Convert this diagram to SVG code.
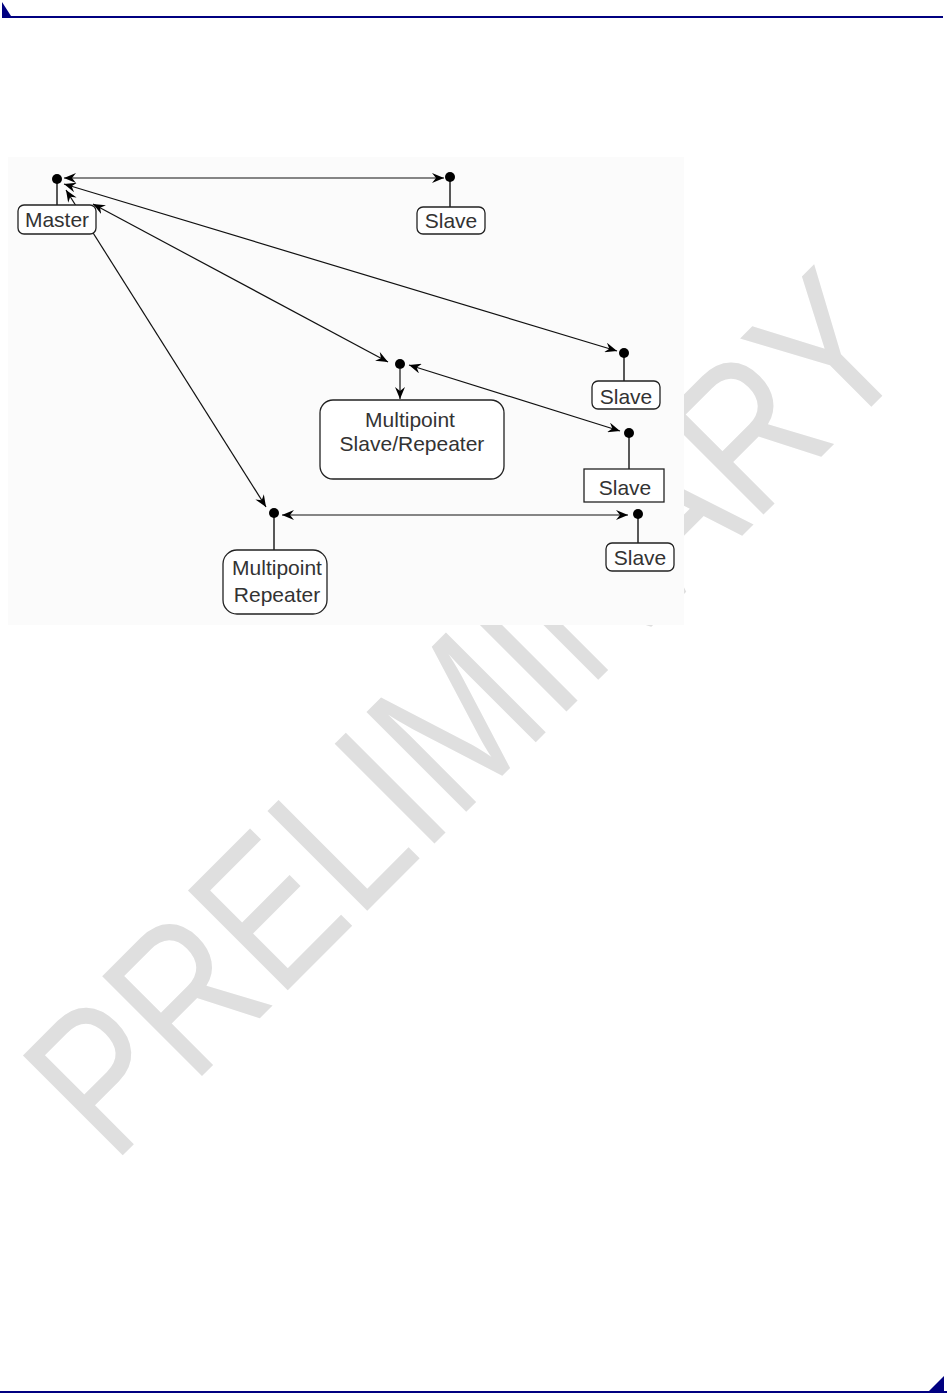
<svg xmlns="http://www.w3.org/2000/svg" width="947" height="1394" viewBox="0 0 947 1394">
<style>
.box{fill:#ffffff;stroke:#222;stroke-width:1.3}
.lbl{font-family:"Liberation Sans",Arial,sans-serif;font-size:21px;fill:#333;text-anchor:middle}
.stem{stroke:#222;stroke-width:1.5}
.dot{fill:#000}
.con{stroke:#111;stroke-width:1.2;fill:none}
</style>
<defs>
<marker id="ah" viewBox="0 0 12 10" refX="12" refY="5" markerWidth="12" markerHeight="10" markerUnits="userSpaceOnUse" orient="auto-start-reverse">
<path d="M0,0 L12,5 L0,10 L4,5 z" fill="#000"/>
</marker>
</defs>
<rect width="947" height="1394" fill="#ffffff"/>
<g id="header">
<path d="M2,2 L11,16 L2,16 z" fill="#000080"/>
<rect x="2" y="16" width="941" height="2" fill="#000080"/>
</g>
<g id="footer">
<path d="M944,1376 L944,1391 L929,1391 z" fill="#000080"/>
<rect x="0" y="1391" width="947" height="2" fill="#000080"/>
</g>
<text id="watermark" transform="translate(113,1165) rotate(-45) scale(0.82,1)" font-family="Liberation Sans,Arial,sans-serif" font-size="205" fill="#dfdfdf">PRELIMINARY</text>
<rect id="diagram-bg" x="8" y="157" width="676" height="468" fill="#fbfbfb"/>
<g id="connectors">
<line class="con" x1="64" y1="178" x2="444" y2="178" marker-start="url(#ah)" marker-end="url(#ah)"/>
<line class="con" x1="64" y1="184" x2="617" y2="351" marker-start="url(#ah)" marker-end="url(#ah)"/>
<line class="con" x1="93" y1="204" x2="388" y2="362" marker-start="url(#ah)" marker-end="url(#ah)"/>
<line class="con" x1="66" y1="190" x2="266" y2="507" marker-start="url(#ah)" marker-end="url(#ah)"/>
<line class="con" x1="409" y1="365" x2="620" y2="431" marker-start="url(#ah)" marker-end="url(#ah)"/>
<line class="con" x1="282" y1="515" x2="628" y2="515" marker-start="url(#ah)" marker-end="url(#ah)"/>
<line class="con" x1="400" y1="369" x2="400" y2="399" marker-end="url(#ah)"/>
</g>
<g id="master">
<line class="stem" x1="57" y1="179" x2="57" y2="205"/>
<circle class="dot" cx="57" cy="179" r="5"/>
<rect class="box" x="18" y="205" width="78" height="29" rx="6"/>
<text class="lbl" x="57" y="227">Master</text>
</g>
<g id="slave1">
<line class="stem" x1="450" y1="177" x2="450" y2="207"/>
<circle class="dot" cx="450" cy="177" r="5"/>
<rect class="box" x="417" y="207" width="68" height="27" rx="6"/>
<text class="lbl" x="451" y="228">Slave</text>
</g>
<g id="slave2">
<line class="stem" x1="624" y1="353" x2="624" y2="381"/>
<circle class="dot" cx="624" cy="353" r="5"/>
<rect class="box" x="592" y="381" width="68" height="28" rx="6"/>
<text class="lbl" x="626" y="404">Slave</text>
</g>
<g id="multipoint-slave-repeater">
<circle class="dot" cx="400" cy="364" r="5"/>
<rect class="box" x="320" y="400" width="184" height="79" rx="13"/>
<text class="lbl" x="410" y="427">Multipoint</text>
<text class="lbl" x="412" y="451">Slave/Repeater</text>
</g>
<g id="slave3">
<line class="stem" x1="629" y1="433" x2="629" y2="469"/>
<circle class="dot" cx="629" cy="433" r="5"/>
<rect class="box" x="584" y="469" width="80" height="33"/>
<text class="lbl" x="625" y="495">Slave</text>
</g>
<g id="slave4">
<line class="stem" x1="638" y1="514" x2="638" y2="543"/>
<circle class="dot" cx="638" cy="514" r="5"/>
<rect class="box" x="606" y="543" width="68" height="28" rx="6"/>
<text class="lbl" x="640" y="565">Slave</text>
</g>
<g id="multipoint-repeater">
<line class="stem" x1="274" y1="513" x2="274" y2="550"/>
<circle class="dot" cx="274" cy="513" r="5"/>
<rect class="box" x="223" y="550" width="104" height="64" rx="14"/>
<text class="lbl" x="277" y="575">Multipoint</text>
<text class="lbl" x="277" y="602">Repeater</text>
</g>
</svg>
